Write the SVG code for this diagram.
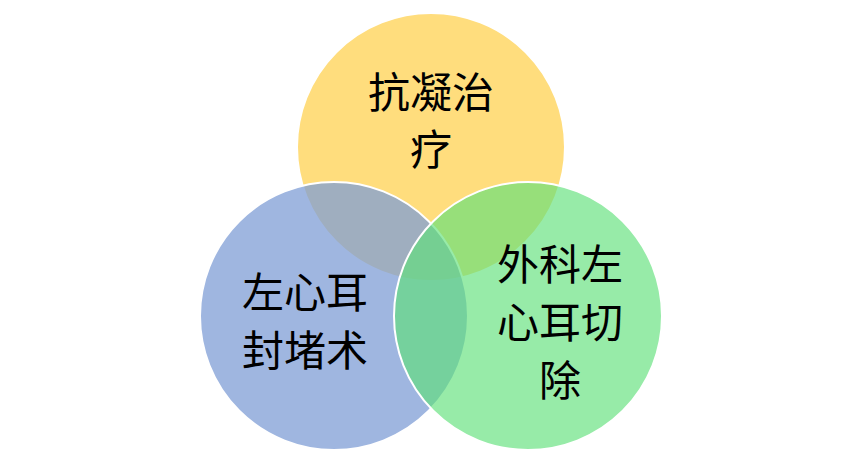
<svg xmlns="http://www.w3.org/2000/svg" width="862" height="465" viewBox="0 0 862 465">
<style>
circle{stroke:#fff;stroke-width:2}
text{font-family:"Noto Sans CJK SC",sans-serif;font-size:42px;fill:#000;text-anchor:middle}
</style>
<rect width="862" height="465" fill="#fff"/>
<g id="top"><circle cx="431" cy="147" r="134" fill="#FFD45C" fill-opacity="0.8"/></g>
<g id="left"><circle cx="334" cy="316" r="134" fill="#7F9ED6" fill-opacity="0.75"/></g>
<g id="right"><circle cx="528" cy="316" r="134" fill="#5FE07A" fill-opacity="0.65"/></g>
<g id="labels">
<text x="431" y="108">抗凝治</text>
<text x="431" y="165">疗</text>
<text x="305" y="308">左心耳</text>
<text x="305" y="366">封堵术</text>
<text x="560" y="280">外科左</text>
<text x="560" y="338">心耳切</text>
<text x="560" y="396">除</text>
</g>
<g id="connectors"/>
</svg>
